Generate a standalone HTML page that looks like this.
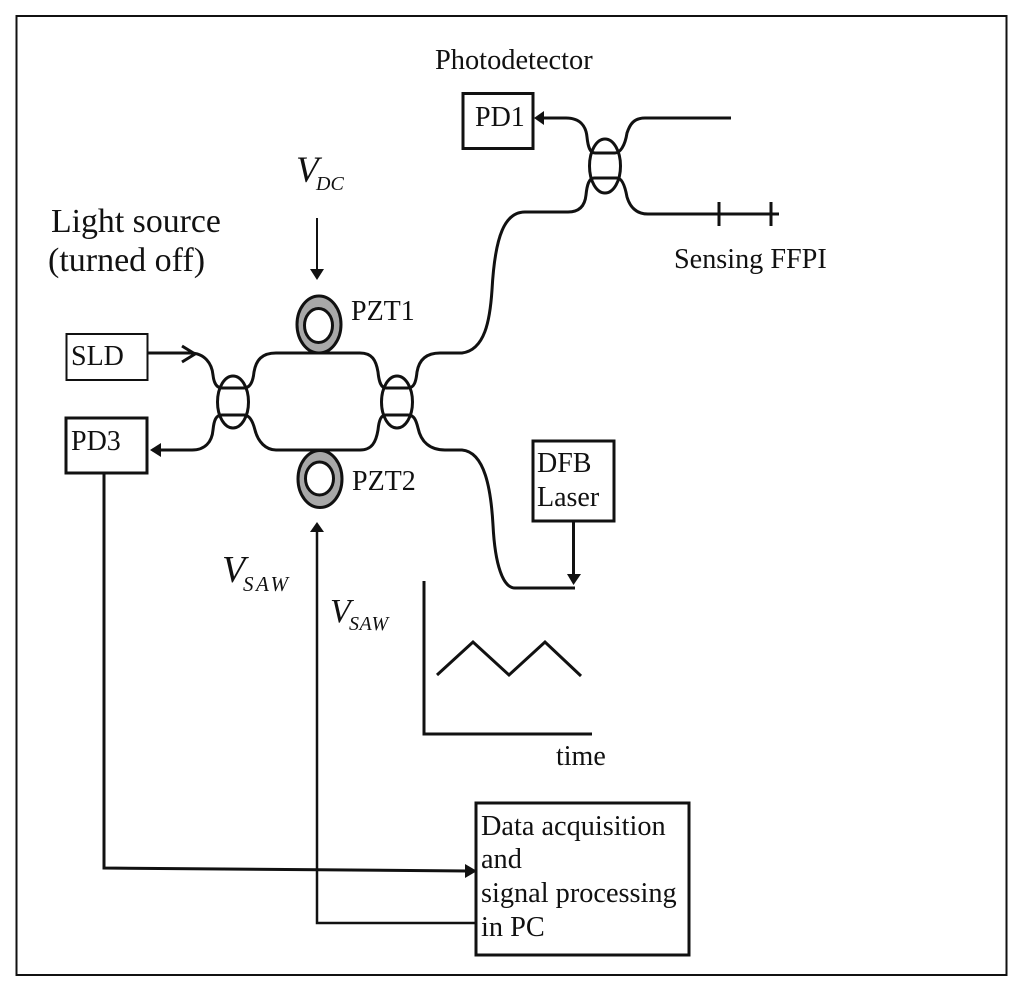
<!DOCTYPE html>
<html><head><meta charset="utf-8"><style>
html,body{margin:0;padding:0;background:#fff}
svg{display:block}
text{font-family:"Liberation Serif",serif;fill:#111}
.f{fill:none;stroke:#111;stroke-width:3}
.b{fill:#fff;stroke:#111;stroke-width:3}
</style></head><body>
<svg width="1024" height="992" viewBox="0 0 1024 992" xmlns="http://www.w3.org/2000/svg">
<rect x="16.5" y="16" width="990" height="959" fill="none" stroke="#111" stroke-width="2"/>
<path class="f" d="M148 353L190 353C205 353 212 364 213 375C214 384 217 388 222 388L244 388C250 388 253 382 254 372C256 360 262 353 276 353L360 353C372 353 376 360 378 372C379 382 381 388 386 388L408 388C414 388 416 382 417 372C419 360 426 353 440 353L462 353C485 350 490 320 492 290C495 235 505 212 525 212L568 212C580 212 585 205 586 195C587 185 589 178 594 178L617 178C622 178 625 186 627 197C630 207 636 214 648 214L779 214"/>
<path class="f" d="M152 450L192 450C205 450 212 442 213 430C214 420 216 415 222 415L244 415C250 415 253 422 255 430C258 442 266 450 276 450L360 450C372 450 376 442 378 430C379 420 381 415 386 415L408 415C414 415 416 420 418 428C421 442 430 450 445 450L462 450C485 452 491 490 493 525C495 565 503 588 515 588L575 588"/>
<path class="f" d="M544 118L566 118C580 118 586 126 587 137C588 147 590 153 595 153L615 153C620 153 625 146 627 133C630 124 634 118 645 118L731 118"/>
<path class="f" d="M719 202V226M771 202V226"/>
<path class="f" d="M182 346L195 354L182 362"/>
<ellipse class="f" cx="233" cy="402" rx="15.5" ry="26"/>
<ellipse class="f" cx="397" cy="402" rx="15.5" ry="26"/>
<ellipse class="f" cx="605" cy="166" rx="15.5" ry="27"/>
<ellipse cx="319" cy="324.5" rx="22" ry="28.5" fill="#a8a8a8" stroke="#111" stroke-width="3"/>
<ellipse cx="318.5" cy="325.5" rx="14" ry="17" fill="#fff" stroke="#111" stroke-width="3"/>
<ellipse cx="320" cy="479" rx="22" ry="28.5" fill="#a8a8a8" stroke="#111" stroke-width="3"/>
<ellipse cx="319.5" cy="478.5" rx="14" ry="16.5" fill="#fff" stroke="#111" stroke-width="3"/>
<rect class="b" x="463" y="93.5" width="70" height="55"/>
<rect x="66.5" y="334" width="81" height="46" fill="#fff" stroke="#111" stroke-width="2"/>
<rect class="b" x="66" y="418" width="81" height="55"/>
<rect class="b" x="533" y="441" width="81" height="80"/>
<rect class="b" x="476" y="803" width="213" height="152"/>
<path d="M534 118L544 111V125Z" fill="#111"/>
<path d="M150 450L161 443V457Z" fill="#111"/>
<path d="M317 218V272" fill="none" stroke="#111" stroke-width="2"/><path d="M317 280L310 269H324Z" fill="#111"/>
<path class="f" d="M573.5 521V576"/><path d="M573.5 585L567 574H581Z" fill="#111"/>
<path class="f" d="M104 473V868L468 871"/><path d="M477 871L465 864V878Z" fill="#111"/>
<path d="M476 923H317V530" fill="none" stroke="#111" stroke-width="2.5"/><path d="M317 522L310 532H324Z" fill="#111"/>
<path class="f" d="M424 581V734H592"/>
<path class="f" d="M437 675L473 642L509 675L545 642L581 676"/>
<text x="435" y="69" font-size="28.4">Photodetector</text>
<text x="475" y="126" font-size="28">PD1</text>
<text x="674" y="268" font-size="28.2">Sensing FFPI</text>
<text x="51" y="232" font-size="33.8">Light source</text>
<text x="48" y="271" font-size="34">(turned off)</text>
<text x="351" y="320" font-size="28">PZT1</text>
<text x="352" y="490" font-size="28">PZT2</text>
<text x="71" y="365" font-size="28">SLD</text>
<text x="71" y="450" font-size="28">PD3</text>
<text x="537" y="472" font-size="28">DFB</text>
<text x="537" y="506" font-size="28">Laser</text>
<text x="556" y="765" font-size="28">time</text>
<text x="481" y="835" font-size="28.3">Data acquisition</text>
<text x="481" y="868" font-size="28.3">and</text>
<text x="481" y="902" font-size="28.3">signal processing</text>
<text x="481" y="936" font-size="28.3">in PC</text>
<text x="296" y="182" font-size="37" font-style="italic">V</text>
<text x="316" y="190" font-size="20" font-style="italic">DC</text>
<text x="222" y="582" font-size="38" font-style="italic">V</text>
<text x="243" y="591" font-size="21" font-style="italic" letter-spacing="2.5">SAW</text>
<text x="330" y="622" font-size="34" font-style="italic">V</text>
<text x="349" y="630" font-size="20" font-style="italic" letter-spacing="0.5">SAW</text>
</svg>
</body></html>
